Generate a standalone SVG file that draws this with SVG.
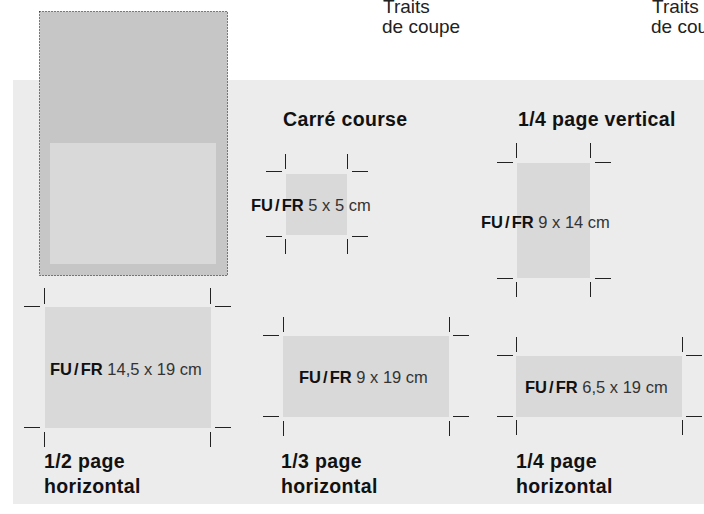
<svg xmlns="http://www.w3.org/2000/svg" width="704" height="514" viewBox="0 0 704 514">
<style>
text{font-family:"Liberation Sans",Arial,sans-serif;fill:#1a1a1a}
.t{font-size:19.5px;font-weight:bold;letter-spacing:0.35px;fill:#111}
.l{font-size:16.5px;fill:#333}
.b{font-weight:bold;fill:#111;word-spacing:-2.5px}
.n{font-size:19px;fill:#222}
.ad{fill:#d9d9d9}
.tk{stroke:#222;stroke-width:1;fill:none}
</style>
<rect x="13" y="80" width="691" height="424" fill="#ececec"/>
<g id="page">
<rect x="39.5" y="11.5" width="188" height="264" fill="#c6c6c6" stroke="#111" stroke-width="1" stroke-dasharray="1 2"/>
<rect x="50" y="143" width="166" height="121" fill="#d9d9d9"/>
</g>
<g id="traits-1"><text class="n" x="383" y="13">Traits</text><text class="n" x="382" y="33">de coupe</text></g>
<g id="traits-2"><text class="n" x="652" y="13">Traits</text><text class="n" x="651" y="33">de coupe</text></g>

<g id="carre-course">
<text class="t" x="283" y="126">Carré course</text>
<rect class="ad" x="286" y="174" width="61" height="61"/>
<path class="tk" d="M285.5 154v15M347.5 154v15M266 171.5h16M352 171.5h16M266 236.5h16M352 236.5h16M285.5 239v15M347.5 239v15"/>
<text class="l" x="251" y="211"><tspan class="b">FU / FR</tspan> 5 x 5 cm</text>
</g>

<g id="quart-vertical">
<text class="t" x="518" y="126">1/4 page vertical</text>
<rect class="ad" x="517" y="163" width="73" height="115"/>
<path class="tk" d="M516.5 143v15M590.5 143v15M497 162.5h16M595 162.5h16M497 278.5h16M595 278.5h16M516.5 282v15M590.5 282v15"/>
<text class="l" x="481" y="228"><tspan class="b">FU / FR</tspan> 9 x 14 cm</text>
</g>

<g id="demi-horizontal">
<rect class="ad" x="45" y="307" width="166" height="121"/>
<path class="tk" d="M44.5 288v16M210.5 288v16M24 306.5h16M215 306.5h16M24 427.5h16M215 427.5h16M44.5 432v15M210.5 432v15"/>
<text class="l" x="50" y="375"><tspan class="b">FU / FR</tspan> 14,5 x 19 cm</text>
<text class="t" x="44" y="468">1/2 page</text>
<text class="t" x="44" y="493">horizontal</text>
</g>

<g id="tiers-horizontal">
<rect class="ad" x="283" y="336" width="166" height="81"/>
<path class="tk" d="M283.5 317v15M449.5 317v15M263 335.5h16M453 335.5h16M263 416.5h16M453 416.5h16M283.5 421v15M449.5 421v15"/>
<text class="l" x="299" y="383"><tspan class="b">FU / FR</tspan> 9 x 19 cm</text>
<text class="t" x="281" y="468">1/3 page</text>
<text class="t" x="281" y="493">horizontal</text>
</g>

<g id="quart-horizontal">
<rect class="ad" x="516" y="356" width="166" height="61"/>
<path class="tk" d="M516.5 337v15M682.5 337v15M497 355.5h16M686 355.5h16M497 416.5h16M686 416.5h16M516.5 420v15M682.5 420v15"/>
<text class="l" x="525" y="393"><tspan class="b">FU / FR</tspan> 6,5 x 19 cm</text>
<text class="t" x="516" y="468">1/4 page</text>
<text class="t" x="516" y="493">horizontal</text>
</g>
<g id="connectors"/>
</svg>
